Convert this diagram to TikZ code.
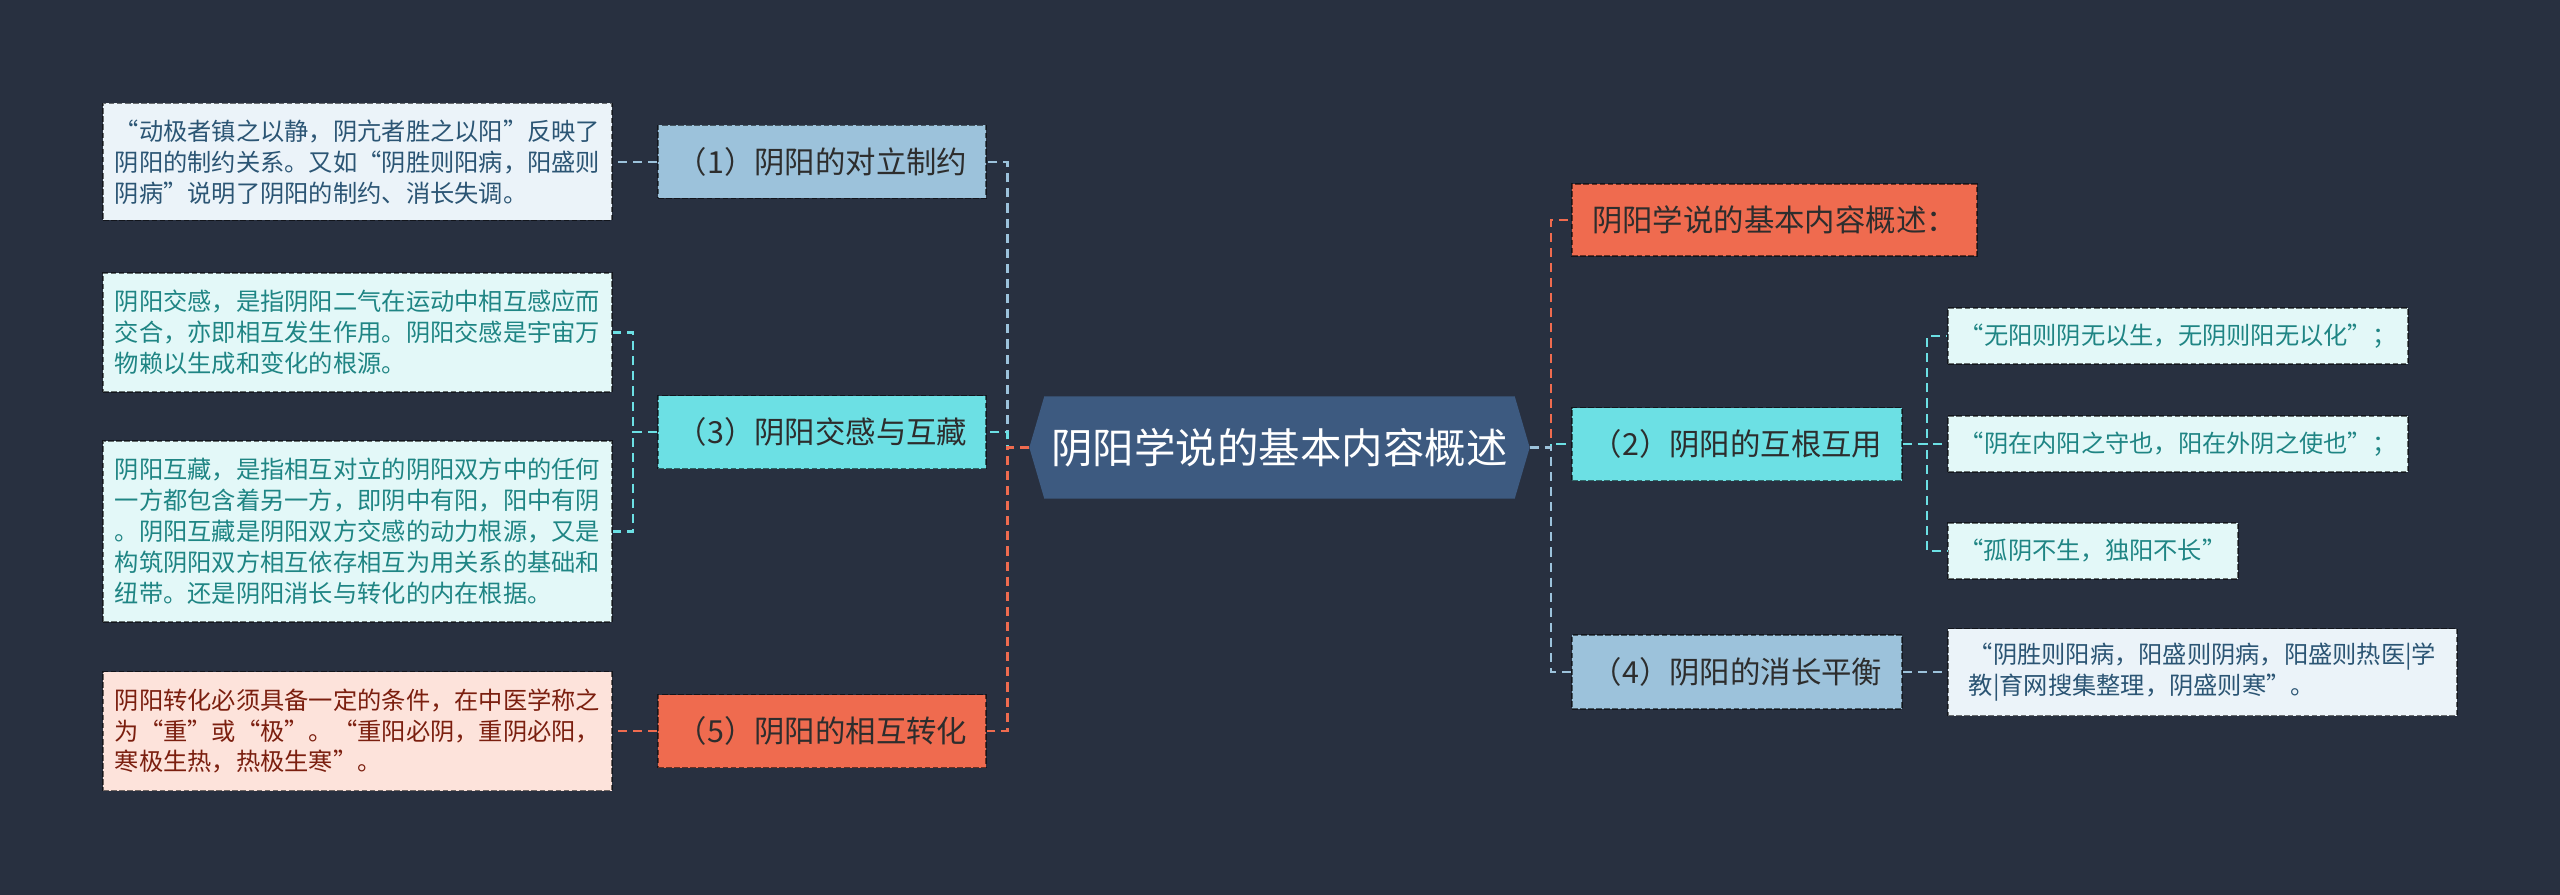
\documentclass[tikz,border=0pt]{standalone}
\usepackage{fontspec}
\setmainfont{Noto Sans CJK SC}
\usepackage{tikz}
\usetikzlibrary{backgrounds}

\definecolor{bgdark}{HTML}{283040}
\definecolor{rootfill}{HTML}{3D5A80}
\definecolor{redfill}{HTML}{EF6B4F}
\definecolor{bluefill}{HTML}{9CC2DB}
\definecolor{cyanfill}{HTML}{6CE0E4}
\definecolor{blueleaf}{HTML}{EBF3F9}
\definecolor{cyanleaf}{HTML}{E3F8F8}
\definecolor{pinkleaf}{HTML}{FDE3DB}
\definecolor{bluetext}{HTML}{2B5574}
\definecolor{cyantext}{HTML}{1F8584}
\definecolor{pinktext}{HTML}{7B1F0F}
\definecolor{nodetext}{HTML}{2D2D2D}

\begin{document}
\begin{tikzpicture}[
  box/.style={draw=black,draw opacity=0.55,line width=0.45pt,dash pattern=on 1.6pt off 0.7pt,
              inner sep=0pt,minimum height=7.3mm},
  topic/.style={box,minimum width=32.8mm,text=nodetext,font=\fontsize{8.65}{10}\selectfont},
  leaf/.style={box,align=left,minimum width=50.9mm,font=\fontsize{6.9}{8.8}\selectfont},
  bleaf/.style={leaf,fill=blueleaf,text=bluetext},
  cleaf/.style={leaf,fill=cyanleaf,text=cyantext},
  pleaf/.style={leaf,fill=pinkleaf,text=pinktext},
  conn/.style={line width=0.68pt,dash pattern=on 2.6pt off 1.7pt}]
  % page
  \begin{scope}[on background layer]
    \fill[bgdark] (0,0) rectangle (25.6,-8.95);
  \end{scope}
  \useasboundingbox (0,0) rectangle (25.6,-8.95);

  % centre
  \node[inner sep=0pt,minimum width=46.9mm,minimum height=10.1mm,text=white,
        font=\fontsize{11.8}{14}\selectfont] (root) at (12.795,-4.475) {阴阳学说的基本内容概述};
  \coordinate (rootL) at ([xshift=-1.5mm]root.west);
  \coordinate (rootR) at ([xshift=1.5mm]root.east);
  \begin{scope}[on background layer]
    \fill[rootfill] (root.north west) -- (root.north east) -- (rootR) -- (root.south east)
      -- (root.south west) -- (rootL) -- cycle;
  \end{scope}

  % left side
  \node[topic,fill=bluefill] (n1) at (8.22,-1.62) {（1）阴阳的对立制约};
  \node[topic,fill=cyanfill] (n3) at (8.22,-4.32) {（3）阴阳交感与互藏};
  \node[topic,fill=redfill]  (n5) at (8.22,-7.31) {（5）阴阳的相互转化};

  \node[bleaf,minimum height=11.7mm] (l1) at (3.575,-1.62)
    {“动极者镇之以静，阴亢者胜之以阳”反映了\\阴阳的制约关系。又如“阴胜则阳病，阳盛则\\阴病”说明了阴阳的制约、消长失调。};
  \node[cleaf,minimum height=11.9mm] (l3a) at (3.575,-3.325)
    {阴阳交感，是指阴阳二气在运动中相互感应而\\交合，亦即相互发生作用。阴阳交感是宇宙万\\物赖以生成和变化的根源。};
  \node[cleaf,minimum height=18.1mm] (l3b) at (3.575,-5.315)
    {阴阳互藏，是指相互对立的阴阳双方中的任何\\一方都包含着另一方，即阴中有阳，阳中有阴\\。阴阳互藏是阴阳双方交感的动力根源，又是\\构筑阴阳双方相互依存相互为用关系的基础和\\纽带。还是阴阳消长与转化的内在根据。};
  \node[pleaf,minimum height=11.9mm] (l5) at (3.575,-7.31)
    {阴阳转化必须具备一定的条件，在中医学称之\\为“重”或“极”。“重阳必阴，重阴必阳，\\寒极生热，热极生寒”。};

  % right side
  \node[topic,fill=redfill,minimum width=40.5mm,minimum height=7.2mm] (n0) at (17.745,-2.20) {阴阳学说的基本内容概述：};
  \node[topic,fill=cyanfill,minimum width=33mm] (n2) at (17.37,-4.44) {（2）阴阳的互根互用};
  \node[topic,fill=bluefill,minimum width=33mm,minimum height=7.4mm] (n4) at (17.37,-6.72) {（4）阴阳的消长平衡};

  \node[cleaf,minimum width=46mm,minimum height=5.6mm] (l2a) at (21.78,-3.36) {“无阳则阴无以生，无阴则阳无以化”；};
  \node[cleaf,minimum width=46mm,minimum height=5.6mm] (l2b) at (21.78,-4.44) {“阴在内阳之守也，阳在外阴之使也”；};
  \node[cleaf,minimum width=29mm,minimum height=5.6mm] (l2c) at (20.93,-5.51) {“孤阴不生，独阳不长”};
  \node[bleaf,minimum width=50.9mm,minimum height=8.7mm] (l4) at (22.025,-6.72)
    {“阴胜则阳病，阳盛则阴病，阳盛则热医|学\\教|育网搜集整理，阴盛则寒”。};

  % branches
  \foreach \t/\c in {n1/bluefill,n3/cyanfill,n5/redfill}
    \draw[conn,\c] (rootL) -- ++(-0.22,0) |- (\t.east);
  \foreach \t/\c in {n0/redfill,n2/cyanfill,n4/bluefill}
    \draw[conn,\c] (rootR) -- ++(0.21,0) |- (\t.west);

  % leaves
  \draw[conn,bluefill] (n1.west) -- (l1.east);
  \foreach \t in {l3a,l3b}
    \draw[conn,cyanfill] (n3.west) -- ++(-0.24,0) |- (\t.east);
  \draw[conn,redfill] (n5.west) -- (l5.east);
  \foreach \t in {l2a,l2b,l2c}
    \draw[conn,cyanfill] (n2.east) -- ++(0.24,0) |- (\t.west);
  \draw[conn,bluefill] (n4.east) -- (l4.west);
\end{tikzpicture}
\end{document}
